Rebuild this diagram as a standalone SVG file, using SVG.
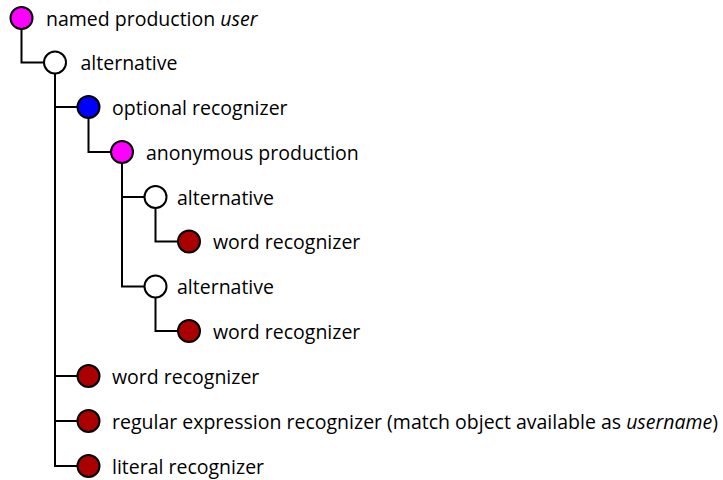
<svg xmlns="http://www.w3.org/2000/svg" width="723" height="480" viewBox="0 0 723 480">
  <style>
    .node circle { stroke: #000; stroke-width: 2; }
    .prod { fill: #ff00ff; }
    .alt { fill: #ffffff; }
    .opt { fill: #0000ff; }
    .rec { fill: #aa0000; }
    .node text { font-family: "Open Sans", "Noto Sans", sans-serif; font-size: 19.5px; fill: #000; }
    .it { font-style: italic; }
    #connectors path { fill: none; stroke: #000; stroke-width: 2; }
  </style>
  <rect width="723" height="480" fill="#fff"/>

  <g id="connectors">
    <path d="M21.5 18 V62.5 H55"/>
    <path d="M55 62.5 V466 H88.5 M55 107 H88.5 M55 376 H88.5 M55 421 H88.5"/>
    <path d="M88.5 107 V152 H122"/>
    <path d="M122 152 V286.5 H155.5 M122 197 H155.5"/>
    <path d="M155.5 197 V241.5 H189"/>
    <path d="M155.5 286.5 V331 H189"/>
  </g>

  <g id="n-user" class="node">
    <circle class="prod" cx="21.5" cy="18" r="11"/>
    <text x="46" y="25.5">named production <tspan class="it">user</tspan></text>
  </g>
  <g id="n-alt" class="node">
    <circle class="alt" cx="55" cy="62.5" r="11"/>
    <text x="80.5" y="70">alternative</text>
  </g>
  <g id="n-optional" class="node">
    <circle class="opt" cx="88.5" cy="107" r="11"/>
    <text x="112" y="114.5">optional recognizer</text>
  </g>
  <g id="n-anon" class="node">
    <circle class="prod" cx="122" cy="152" r="11"/>
    <text x="146" y="159.5">anonymous production</text>
  </g>
  <g id="n-alt1" class="node">
    <circle class="alt" cx="155.5" cy="197" r="11"/>
    <text x="177" y="204.5">alternative</text>
  </g>
  <g id="n-word1" class="node">
    <circle class="rec" cx="189" cy="241.5" r="11"/>
    <text x="213" y="249">word recognizer</text>
  </g>
  <g id="n-alt2" class="node">
    <circle class="alt" cx="155.5" cy="286.5" r="11"/>
    <text x="177" y="294">alternative</text>
  </g>
  <g id="n-word2" class="node">
    <circle class="rec" cx="189" cy="331" r="11"/>
    <text x="213" y="338.5">word recognizer</text>
  </g>
  <g id="n-word3" class="node">
    <circle class="rec" cx="88.5" cy="376" r="11"/>
    <text x="112" y="383.5">word recognizer</text>
  </g>
  <g id="n-regex" class="node">
    <circle class="rec" cx="88.5" cy="421" r="11"/>
    <text x="112" y="428.5">regular expression recognizer (match object available as <tspan class="it">username</tspan>)</text>
  </g>
  <g id="n-literal" class="node">
    <circle class="rec" cx="88.5" cy="466" r="11"/>
    <text x="112" y="473.5">literal recognizer</text>
  </g>
</svg>
